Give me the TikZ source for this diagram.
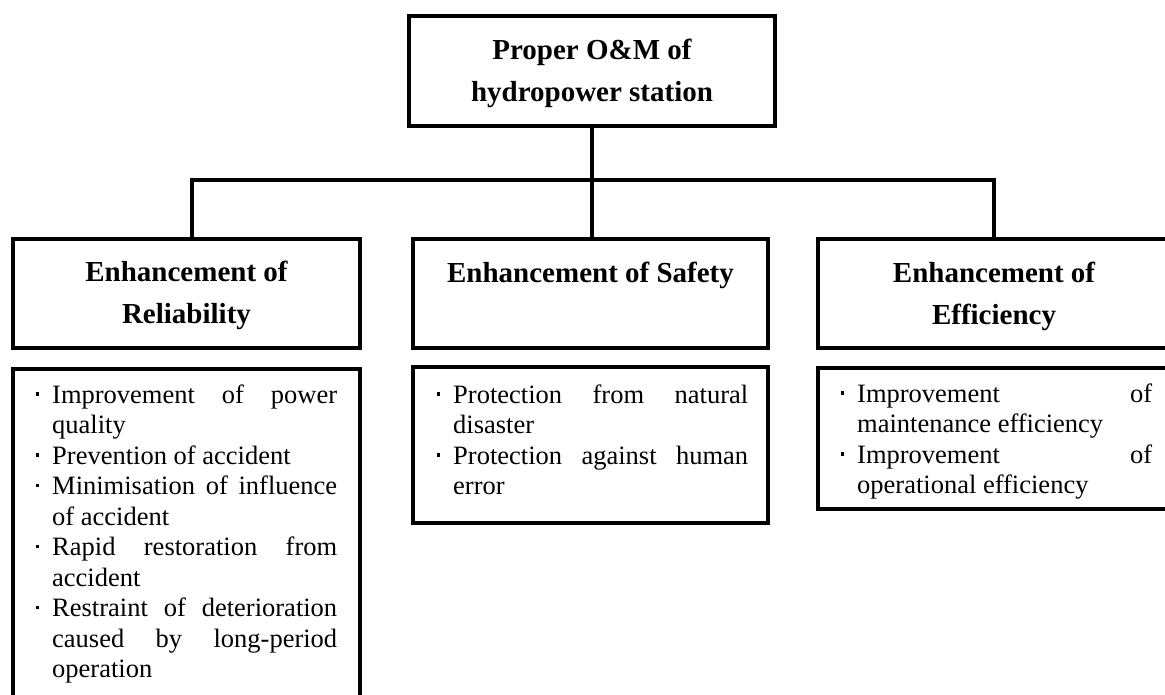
\documentclass[tikz,border=0pt]{standalone}
\usepackage{fontspec}
\setmainfont{Liberation Serif}
\newcommand\JLine[1]{\makebox[\linewidth][s]{#1}}
\newcommand\Bul{\leavevmode\llap{\raisebox{7.5pt}{\rule{3.5pt}{3.5pt}}\hspace{13pt}}}
\begin{document}
\begin{tikzpicture}[x=1pt,y=-1pt,
  box/.style={draw, line width=4pt, inner sep=0pt, rectangle},
  hdr/.style={font=\fontsize{29}{42}\selectfont\bfseries, anchor=base, inner sep=0pt},
  body/.style={anchor=base west, inner sep=0pt},
  link/.style={line width=4pt}]
\useasboundingbox (0,0) rectangle (1165,695);
\fill[white] (0,0) rectangle (1165,695);
\clip (0,0) rectangle (1165,695);
% boxes
\node[box, minimum width=366pt, minimum height=110pt] (top) at (592,71) {};
\node[box, minimum width=347pt, minimum height=109pt] (rel) at (186.5,293.5) {};
\node[box, minimum width=355pt, minimum height=109pt] (saf) at (590.5,293.5) {};
\node[box, minimum width=352pt, minimum height=109pt] (eff) at (994,293.5) {};
\node[box, minimum width=347pt, minimum height=349pt] (relb) at (186.5,543.5) {};
\node[box, minimum width=355pt, minimum height=156pt] (safb) at (590.5,445) {};
\node[box, minimum width=352pt, minimum height=141pt] (effb) at (994,438.5) {};
% headers
\node[hdr] (toptxt) at (592,60) {\begin{tabular}[t]{@{}c@{}}Proper O\&M of\\hydropower station\end{tabular}};
\node[hdr] (reltxt) at (186.5,282) {\begin{tabular}[t]{@{}c@{}}Enhancement of\\Reliability\end{tabular}};
\node[hdr] (saftxt) at (590.5,283) {\begin{tabular}[t]{@{}c@{}}Enhancement of Safety\end{tabular}};
\node[hdr] (efftxt) at (994,283) {\begin{tabular}[t]{@{}c@{}}Enhancement of\\Efficiency\end{tabular}};
% bullet texts
\node[body] (relbtxt) at (52,403) {\parbox[t]{285pt}{\fontsize{26.5}{30.5}\selectfont
\Bul\JLine{Improvement of power}\\
quality\\
\Bul Prevention of accident\\
\Bul\JLine{Minimisation of influence}\\
of accident\\
\Bul\JLine{Rapid restoration from}\\
accident\\
\Bul\JLine{Restraint of deterioration}\\
\JLine{caused by long-period}\\
operation}};
\node[body] (safbtxt) at (453,403) {\parbox[t]{295pt}{\fontsize{26.5}{30.5}\selectfont
\Bul\JLine{Protection from natural}\\
disaster\\
\Bul\JLine{Protection against human}\\
error}};
\node[body] (effbtxt) at (857,402) {\parbox[t]{295pt}{\fontsize{26.5}{30.5}\selectfont
\Bul\JLine{Improvement of}\\
maintenance efficiency\\
\Bul\JLine{Improvement of}\\
operational efficiency}};
% connectors
\coordinate (hl) at (192,180);
\coordinate (hr) at (994,180);
\draw[link] (top.south) -- (top.south |- saf.north);
\draw[link] (hl |- rel.north) -- (hl) -- (hr) -- (hr |- eff.north);
\end{tikzpicture}
\end{document}
